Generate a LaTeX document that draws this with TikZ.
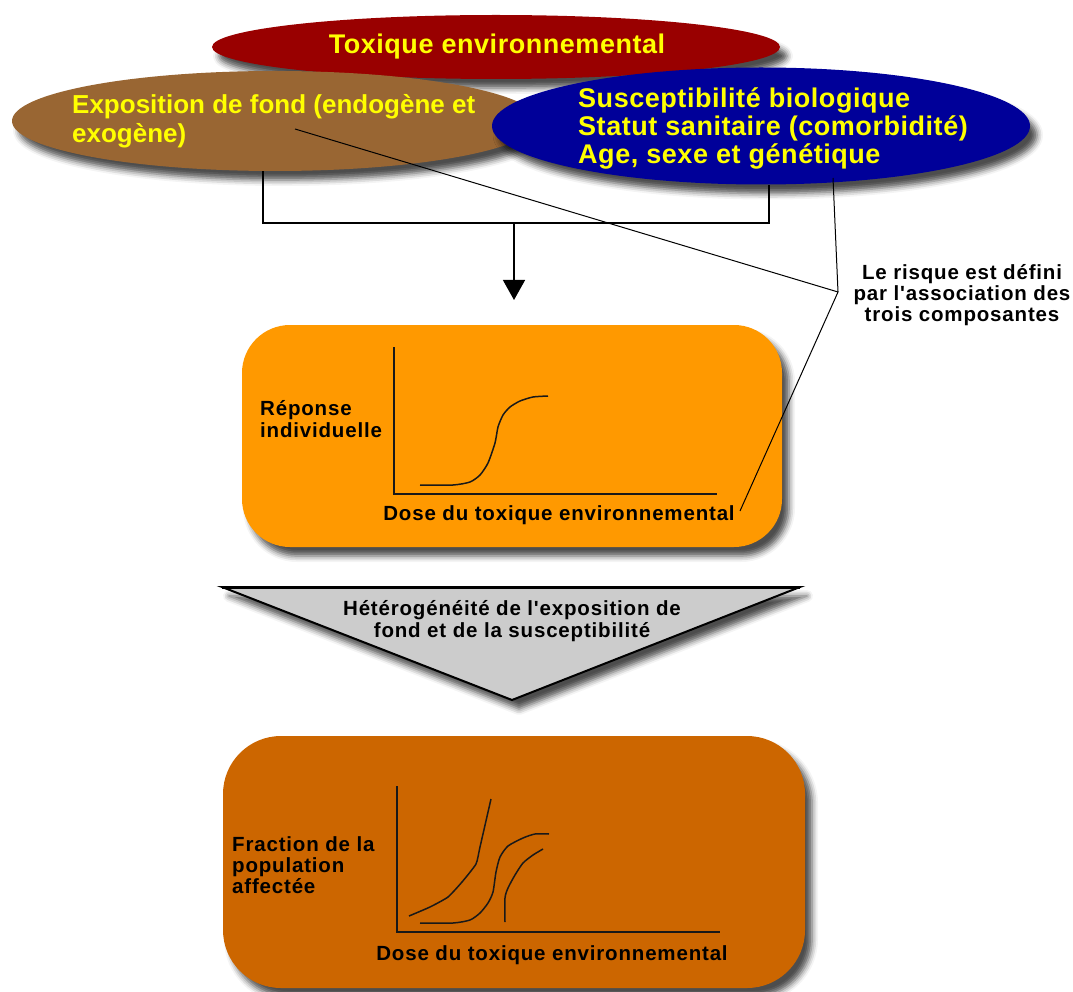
\documentclass[tikz,border=0pt]{standalone}
\usepackage{fontspec}
\setmainfont{Liberation Sans}[Ligatures=TeXOff]
\usetikzlibrary{shapes.geometric,arrows.meta,shadows.blur}
\definecolor{toxred}{HTML}{990000}
\definecolor{expobrown}{HTML}{996633}
\definecolor{suscblue}{HTML}{000099}
\definecolor{txtyellow}{HTML}{FFFF00}
\definecolor{boxorange}{HTML}{FF9900}
\definecolor{boxrust}{HTML}{CC6600}
\definecolor{tribg}{HTML}{CCCCCC}
\newcommand\bigtxt{\fontsize{27}{28}\selectfont\bfseries\addfontfeature{LetterSpace=2}}
\newcommand\brtxt{\fontsize{26}{29}\selectfont\bfseries}
\newcommand\smtxt{\fontsize{20.5}{21.3}\selectfont\bfseries\addfontfeature{LetterSpace=4}}
\begin{document}
\begin{tikzpicture}[x=1pt,y=-1pt,
  ell/.style={ellipse, inner sep=0pt},
  shd/.style={blur shadow={shadow xshift=7pt, shadow yshift=-9pt, shadow blur radius=6pt, shadow opacity=70}},
  conn/.style={draw=black, line width=1.4pt},
  thinconn/.style={draw=black, line width=1pt},
  axis/.style={line width=1.8pt, draw=black!90},
  curve/.style={line width=1.5pt, draw=black!90},
  yel/.style={text=txtyellow, inner sep=0pt},
  lbl/.style={font=\smtxt, text=black, inner sep=0pt}]
\useasboundingbox (0,0) rectangle (1073,992);

% ellipses
\node[ell, fill=toxred, shd, minimum width=568pt, minimum height=64pt] (tox) at (496,47) {};
\node[ell, fill=expobrown, shd, minimum width=526pt, minimum height=100pt] (expo) at (275,121) {};
\node[ell, fill=suscblue, shd, minimum width=538pt, minimum height=117pt] (susc) at (761,126) {};
\node[yel, font=\bigtxt] (toxt) at (497,47) {Toxique environnemental};
\node[yel, font=\brtxt, align=left, anchor=west] (expot) at (72,121) {Exposition de fond (endogène et\\exogène)};
\node[yel, font=\bigtxt, align=left, anchor=west] (susct) at (578,128) {Susceptibilité biologique\\Statut sanitaire (comorbidité)\\Age, sexe et génétique};

% bracket and arrow
\coordinate (bL) at (263,223);
\coordinate (bR) at (769,223);
\coordinate (bM) at (514,223);
\coordinate (arrtip) at (514,300);
\draw[conn] (expo.south -| bL) -- (bL) -- (bR) -- (susc.south -| bR);
\draw[conn, -{Triangle[width=22pt,length=20pt]}] (bM) -- (arrtip);

% orange box
\node[fill=boxorange, rounded corners=48pt, minimum width=540pt, minimum height=222pt, inner sep=0pt, shd] (resp) at (512,436) {};
\draw[axis] (394,347) -- (394,494) -- (717,494);
\draw[curve] plot[smooth, tension=0.4] coordinates {(420,485) (453,485) (470,482) (480,475) (488,463) (495,443) (498,427) (503,415) (510,407) (520,401) (533,397) (548,396)};
\node[lbl, align=left, anchor=west] (resplbl) at (260,419) {Réponse\\individuelle};
\node[lbl, anchor=base] (dose1) at (559,520) {Dose du toxique environnemental};

% risk lines and label
\coordinate (rA) at (295,129);
\coordinate (rB) at (833,178);
\coordinate (rJ) at (838,292);
\coordinate (rC) at (740,511);
\draw[thinconn] (rA) -- (rJ) -- (rC);
\draw[thinconn] (rB) -- (rJ);
\node[lbl, align=center] (risk) at (962,295) {Le risque est défini\\par l'association des\\trois composantes};

% triangle
\filldraw[fill=tribg, draw=black, line width=2pt, line join=miter, shd] (222,587) -- (800,587) -- (512,700) -- cycle;
\draw[line width=3pt] (222,587) -- (800,587);
\node[lbl, align=center] (het) at (512,621) {Hétérogénéité de l'exposition de\\fond et de la susceptibilité};

% bottom box
\node[fill=boxrust, rounded corners=58pt, minimum width=582pt, minimum height=252pt, inner sep=0pt, shd] (pop) at (514,862) {};
\draw[axis] (397,786) -- (397,932) -- (720,932);
\draw[curve] plot[smooth, tension=0.3] coordinates {(409,916) (430,907) (448,897) (462,882) (476,864) (480,847) (491,799)};
\draw[curve] plot[smooth, tension=0.4] coordinates {(420,923) (453,923) (470,920) (480,913) (488,903) (493,892) (496,872) (500,857) (508,846) (523,838) (535,834) (549,834)};
\draw[curve] plot[smooth, tension=0.4] coordinates {(505,922) (505,898) (508,888) (515,875) (523,863) (533,855) (543,849)};
\node[lbl, align=left, anchor=west] (poplbl) at (232,865) {Fraction de la\\population\\affectée};
\node[lbl, anchor=base] (dose2) at (552,960) {Dose du toxique environnemental};
\end{tikzpicture}
\end{document}
